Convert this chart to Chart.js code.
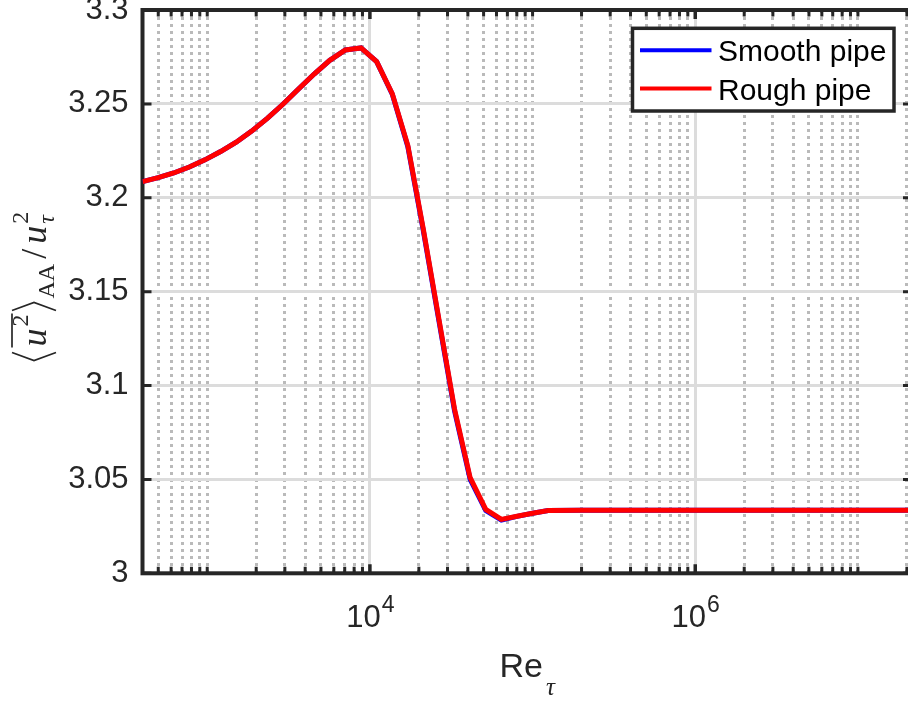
<!DOCTYPE html>
<html>
<head>
<meta charset="utf-8">
<script src="https://cdn.jsdelivr.net/npm/chart.js@4.4.1/dist/chart.umd.min.js"></script>
<style>
  html, body { margin: 0; padding: 0; background: #fff; overflow: hidden; }
  #wrap { width: 920px; height: 702px; }
</style>
</head>
<body>
<div id="wrap"><canvas id="chart" width="920" height="702"></canvas></div>
<script>
// friction Reynolds number samples (log spaced up to the plateau)
const reTau = [400, 499, 622, 776, 968, 1208, 1507, 1876, 2340, 2919, 3641, 4542,
  5666, 7068, 8817, 11000, 13720, 17110, 21290, 26560, 33130, 41330, 51550,
  64310, 80200, 100000, 124800, 200000, 500000, 1000000, 3000000, 10000000, 21500000];

const smoothPipe = [3.2086, 3.2107, 3.2132, 3.2164, 3.2202, 3.2246, 3.2296, 3.2355,
  3.2423, 3.2498, 3.2579, 3.2659, 3.2732, 3.2787, 3.2798, 3.2725, 3.2552, 3.2272,
  3.1826, 3.1344, 3.0866, 3.0500, 3.0334, 3.0284, 3.0303, 3.0320, 3.0334, 3.0336,
  3.0336, 3.0336, 3.0336, 3.0336, 3.0336];

const roughPipe = [3.2086, 3.2107, 3.2132, 3.2164, 3.2202, 3.2246, 3.2296, 3.2355,
  3.2423, 3.2498, 3.2579, 3.2659, 3.2732, 3.2787, 3.2798, 3.2725, 3.2555, 3.2278,
  3.1834, 3.1354, 3.0875, 3.0509, 3.0340, 3.0287, 3.0304, 3.0320, 3.0334, 3.0336,
  3.0336, 3.0336, 3.0336, 3.0336, 3.0336];

const seriesNames = ['Smooth pipe', 'Rough pipe'];
const seriesColors = ['#0000ff', '#ff0000'];

const xMin = 400;
const xMax = 21500000;
const xLabelTicks = [1e4, 1e6];
const yMin = 3;
const yMax = 3.3;
const yStep = 0.05;

const axisColor = '#262626';
const sansFont = '"Liberation Sans", Arial, Helvetica, sans-serif';
const serifFont = '"Liberation Serif", "DejaVu Serif", serif';

// every 1..9 x 10^n inside the x range, for the minor grid
const xGridValues = [];
for (let e = 2; e <= 7; e++) {
  for (let m = 1; m <= 9; m++) {
    const v = m * Math.pow(10, e);
    if (v >= xMin && v <= xMax) xGridValues.push(v);
  }
}
const isMajorX = v => xLabelTicks.some(t => Math.abs(t - v) < 1e-6 * t);

function drawBracket(ctx, x, open) {
  ctx.beginPath();
  if (open) {
    ctx.moveTo(x + 9, -34); ctx.lineTo(x + 1, -12); ctx.lineTo(x + 9, 10);
  } else {
    ctx.moveTo(x + 1, -34); ctx.lineTo(x + 9, -12); ctx.lineTo(x + 1, 10);
  }
  ctx.stroke();
}

const axesPlugin = {
  id: 'matlabAxes',
  beforeDatasetsDraw(chart) {
    const { ctx, chartArea: a, scales: { x, y } } = chart;
    ctx.save();
    ctx.strokeStyle = axisColor;
    ctx.lineCap = 'butt';
    // inward tick marks on all four sides
    x.ticks.forEach(t => {
      const px = x.getPixelForValue(t.value);
      const major = isMajorX(t.value);
      const len = major ? 9 : 6.5;
      ctx.lineWidth = major ? 3.5 : 3;
      ctx.beginPath();
      ctx.moveTo(px, a.bottom); ctx.lineTo(px, a.bottom - len);
      ctx.moveTo(px, a.top); ctx.lineTo(px, a.top + len);
      ctx.stroke();
    });
    ctx.lineWidth = 3;
    y.ticks.forEach(t => {
      const py = y.getPixelForValue(t.value);
      ctx.beginPath();
      ctx.moveTo(a.left, py); ctx.lineTo(a.left + 9, py);
      ctx.moveTo(a.right, py); ctx.lineTo(a.right - 9, py);
      ctx.stroke();
    });
    ctx.lineWidth = 4;
    ctx.strokeRect(a.left, a.top, a.right - a.left, a.bottom - a.top);
    ctx.restore();
  },
  afterDraw(chart) {
    const { ctx, chartArea: a, scales: { x } } = chart;
    ctx.save();
    ctx.fillStyle = axisColor;
    ctx.textBaseline = 'alphabetic';

    // x tick labels as powers of ten
    xLabelTicks.forEach(v => {
      const px = x.getPixelForValue(v);
      const exp = String(Math.round(Math.log10(v)));
      ctx.font = '31px ' + sansFont;
      const w1 = ctx.measureText('10').width;
      ctx.font = '23px ' + sansFont;
      const w2 = ctx.measureText(exp).width;
      const left = px - (w1 + w2) / 2;
      ctx.font = '31px ' + sansFont;
      ctx.fillText('10', left, a.bottom + 53.5);
      ctx.font = '23px ' + sansFont;
      ctx.fillText(exp, left + w1 + 1, a.bottom + 38.5);
    });

    // x axis title: Re_tau
    ctx.font = '34px ' + sansFont;
    const wRe = ctx.measureText('Re').width;
    ctx.font = 'italic 25px ' + serifFont;
    const wTau = ctx.measureText('\u03c4').width;
    const cx = (a.left + a.right) / 2;
    const tx = cx - (wRe + wTau + 3) / 2;
    ctx.font = '34px ' + sansFont;
    ctx.fillText('Re', tx, a.bottom + 104);
    ctx.font = 'italic 25px ' + serifFont;
    ctx.fillText('\u03c4', tx + wRe + 3, a.bottom + 121.5);

    // y axis title: <u'^2>_AA / u_tau^2
    ctx.save();
    ctx.translate(46, (a.top + a.bottom) / 2 - 5);
    ctx.rotate(-Math.PI / 2);
    ctx.strokeStyle = axisColor;
    ctx.lineWidth = 1.7;
    const bigIt = 'italic 36px ' + serifFont;
    const big = '36px ' + serifFont;
    const small = '24px ' + serifFont;
    const smallIt = 'italic 24px ' + serifFont;
    const w = (f, s) => { ctx.font = f; return ctx.measureText(s).width; };
    const wu = w(bigIt, 'u'), w2 = w(small, '2'), wAA = w(small, 'AA'),
      wSl = w(big, '/'), wt = w(smallIt, '\u03c4');
    const total = 12 + 3 + wu + 2 + w2 + 3 + 12 + 1 + wAA + 5 + wSl + 5 + wu + 2 + Math.max(w2, wt);
    let p = -total / 2;
    drawBracket(ctx, p, true); p += 12 + 3;
    const barStart = p;
    ctx.font = bigIt; ctx.fillText('u', p, 0); p += wu + 2;
    ctx.font = small; ctx.fillText('2', p, -18); p += w2;
    ctx.beginPath(); ctx.moveTo(barStart - 1, -34); ctx.lineTo(p + 1, -34); ctx.stroke();
    p += 3;
    drawBracket(ctx, p, false); p += 12 + 1;
    ctx.font = small; ctx.fillText('AA', p, 8); p += wAA + 5;
    ctx.font = big; ctx.fillText('/', p, 0); p += wSl + 5;
    ctx.font = bigIt; ctx.fillText('u', p, 0); p += wu + 2;
    ctx.font = small; ctx.fillText('2', p, -18);
    ctx.font = smallIt; ctx.fillText('\u03c4', p, 8);
    ctx.restore();

    // legend box in the upper right corner
    const bx = a.right - 279.5, by = a.top + 18.3, bw = 261.5, bh = 82.7;
    ctx.fillStyle = '#ffffff';
    ctx.fillRect(bx, by, bw, bh);
    ctx.strokeStyle = axisColor;
    ctx.lineWidth = 3.5;
    ctx.strokeRect(bx, by, bw, bh);
    chart.data.datasets.forEach((ds, i) => {
      const ly = by + 22 + i * 38.3;
      ctx.strokeStyle = ds.borderColor;
      ctx.lineWidth = 4;
      ctx.beginPath();
      ctx.moveTo(bx + 7.5, ly); ctx.lineTo(bx + 79, ly);
      ctx.stroke();
      ctx.fillStyle = '#000000';
      ctx.font = '30px ' + sansFont;
      ctx.fillText(ds.label, bx + 85.5, ly + 11);
    });
    ctx.restore();
  }
};

const toPoints = vals => reTau.map((r, i) => ({ x: r, y: vals[i] }));

new Chart(document.getElementById('chart').getContext('2d'), {
  type: 'line',
  data: {
    datasets: [
      { label: seriesNames[0], data: toPoints(smoothPipe), borderColor: seriesColors[0],
        borderWidth: 5, pointRadius: 0, tension: 0, order: 1 },
      { label: seriesNames[1], data: toPoints(roughPipe), borderColor: seriesColors[1],
        borderWidth: 5, pointRadius: 0, tension: 0, order: 0 }
    ]
  },
  options: {
    responsive: false,
    animation: false,
    devicePixelRatio: 1,
    layout: { padding: { top: 10, right: 8, bottom: 0, left: 0 } },
    plugins: { legend: { display: false }, tooltip: { enabled: false } },
    scales: {
      x: {
        type: 'logarithmic',
        min: xMin,
        max: xMax,
        afterBuildTicks: scale => { scale.ticks = xGridValues.map(v => ({ value: v })); },
        afterFit: scale => { scale.height = 128.7; scale.paddingLeft = 0; scale.paddingRight = 0; },
        ticks: { display: false, autoSkip: false },
        grid: {
          drawTicks: false,
          color: ctx => isMajorX(ctx.tick.value) ? '#dcdcdc' : '#bababa',
          lineWidth: 3
        },
        border: { display: false, dash: ctx => isMajorX(ctx.tick.value) ? [] : [3, 4] }
      },
      y: {
        min: yMin,
        max: yMax,
        afterFit: scale => { scale.width = 142.5; scale.paddingTop = 0; scale.paddingBottom = 0; },
        ticks: {
          stepSize: yStep,
          padding: 14,
          color: axisColor,
          font: { family: sansFont, size: 31 },
          callback: v => String(Number(v.toFixed(2)))
        },
        grid: { drawTicks: false, color: '#dcdcdc', lineWidth: 3 },
        border: { display: false }
      }
    }
  },
  plugins: [axesPlugin]
});
</script>
</body>
</html>
